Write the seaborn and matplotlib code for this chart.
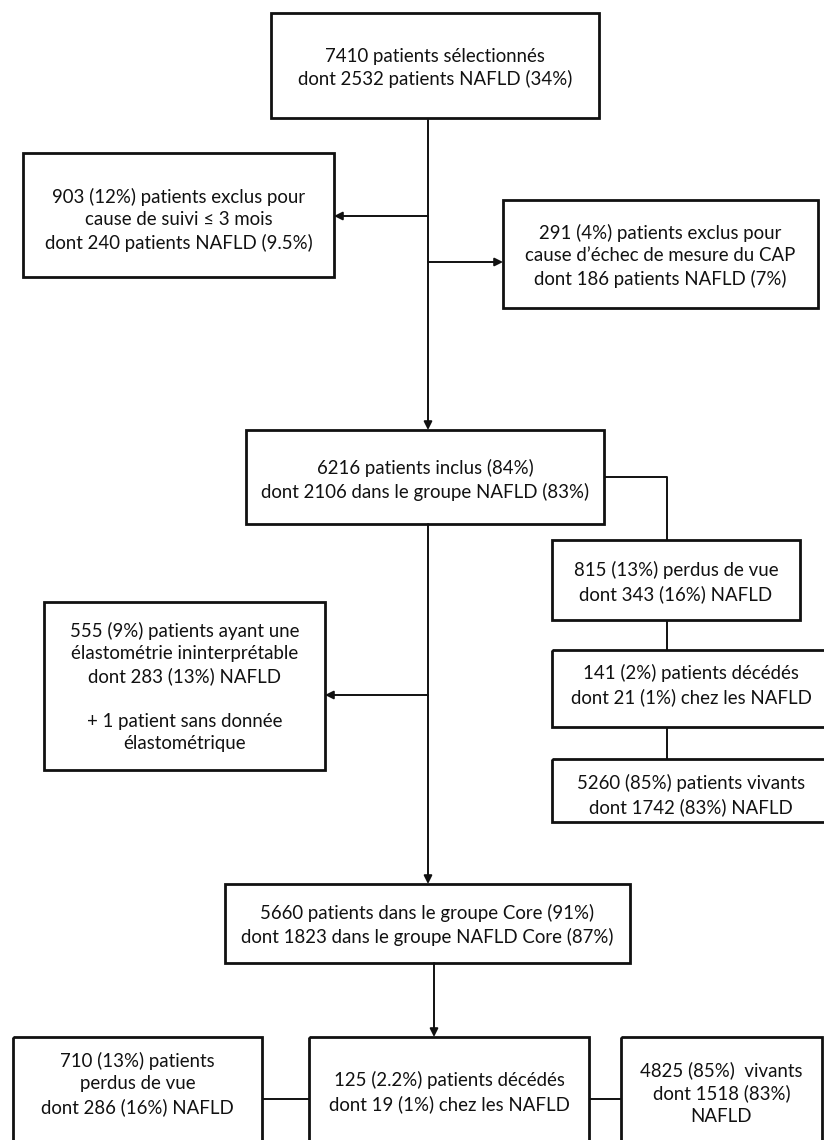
import matplotlib
matplotlib.use("Agg")
import matplotlib.pyplot as plt
import seaborn as sns
from matplotlib.patches import Rectangle

sns.set_style("white")
plt.rcParams['font.family'] = ['Lato', 'DejaVu Sans']

# flowchart content
box_names = ["selected", "excl_followup", "excl_cap", "included", "lost", "dead",
             "alive", "elasto", "core", "core_lost", "core_dead", "core_alive"]
box_texts = [
    "7410 patients sélectionnés\ndont 2532 patients NAFLD (34%)",
    "903 (12%) patients exclus pour\ncause de suivi ≤ 3 mois\ndont 240 patients NAFLD (9.5%)",
    "291 (4%) patients exclus pour\ncause d’échec de mesure du CAP\ndont 186 patients NAFLD (7%)",
    "6216 patients inclus (84%)\ndont 2106 dans le groupe NAFLD (83%)",
    "815 (13%) perdus de vue\ndont 343 (16%) NAFLD",
    "141 (2%) patients décédés\ndont 21 (1%) chez les NAFLD",
    "5260 (85%) patients vivants\ndont 1742 (83%) NAFLD",
    "555 (9%) patients ayant une\nélastométrie ininterprétable\ndont 283 (13%) NAFLD\n\n+ 1 patient sans donnée\nélastométrique",
    "5660 patients dans le groupe Core (91%)\ndont 1823 dans le groupe NAFLD Core (87%)",
    "710 (13%) patients\nperdus de vue\ndont 286 (16%) NAFLD",
    "125 (2.2%) patients décédés\ndont 19 (1%) chez les NAFLD",
    "4825 (85%)  vivants\ndont 1518 (83%)\nNAFLD",
]

# layout in pixel coordinates: (x0, y0, x1, y1, text_center_y)
layout = {
    "selected":      (271, 13, 599, 118, 68),
    "excl_followup": (23, 153, 334, 277, 220),
    "excl_cap":      (503, 200, 818, 308, 256),
    "included":      (246, 430, 604, 524, 480),
    "lost":          (552, 540, 800, 620, 582),
    "dead":          (552, 650, 830, 727, 685),
    "alive":         (552, 759, 830, 822, 795),
    "elasto":        (44, 602, 325, 770, 687),
    "core":          (225, 884, 630, 963, 925),
    "core_lost":     (13, 1037, 262, 1160, 1084),
    "core_dead":     (309, 1037, 589, 1160, 1092),
    "core_alive":    (621, 1037, 822, 1160, 1093),
}

fig = plt.figure(figsize=(8.24, 11.4), dpi=100)
ax = fig.add_axes([0, 0, 1, 1])
ax.set_xlim(0, 824)
ax.set_ylim(1140, 0)
ax.axis("off")

for name, txt in zip(box_names, box_texts):
    x0, y0, x1, y1, ty = layout[name]
    ax.add_patch(Rectangle((x0, y0), x1 - x0, y1 - y0, fill=False,
                           edgecolor="#111111", lw=2.0, zorder=3))
    ax.text((x0 + x1) / 2, ty, txt, ha="center", va="center", fontsize=13.4,
            color="#111111", linespacing=1.36, zorder=4)


def line(xs, ys):
    ax.plot(xs, ys, color="#111111", lw=1.4, solid_capstyle="butt", zorder=2)


def arrow(x0, y0, x1, y1):
    ax.annotate("", xy=(x1, y1), xytext=(x0, y0),
                arrowprops=dict(arrowstyle="-|>", color="#111111", lw=1.4,
                                mutation_scale=12, shrinkA=0, shrinkB=0), zorder=2)


# main trunk
arrow(428, 120, 428, 430)
arrow(428, 216, 334, 216)
arrow(428, 262, 503, 262)
# right branch
line([604, 667, 667], [477, 477, 540])
line([667, 667], [620, 650])
line([667, 667], [727, 759])
# second trunk
arrow(428, 524, 428, 884)
arrow(428, 695, 325, 695)
# core
arrow(434, 963, 434, 1037)
line([262, 309], [1099, 1099])
line([589, 621], [1099, 1099])

fig.savefig("out.png", dpi=100, facecolor="white")
